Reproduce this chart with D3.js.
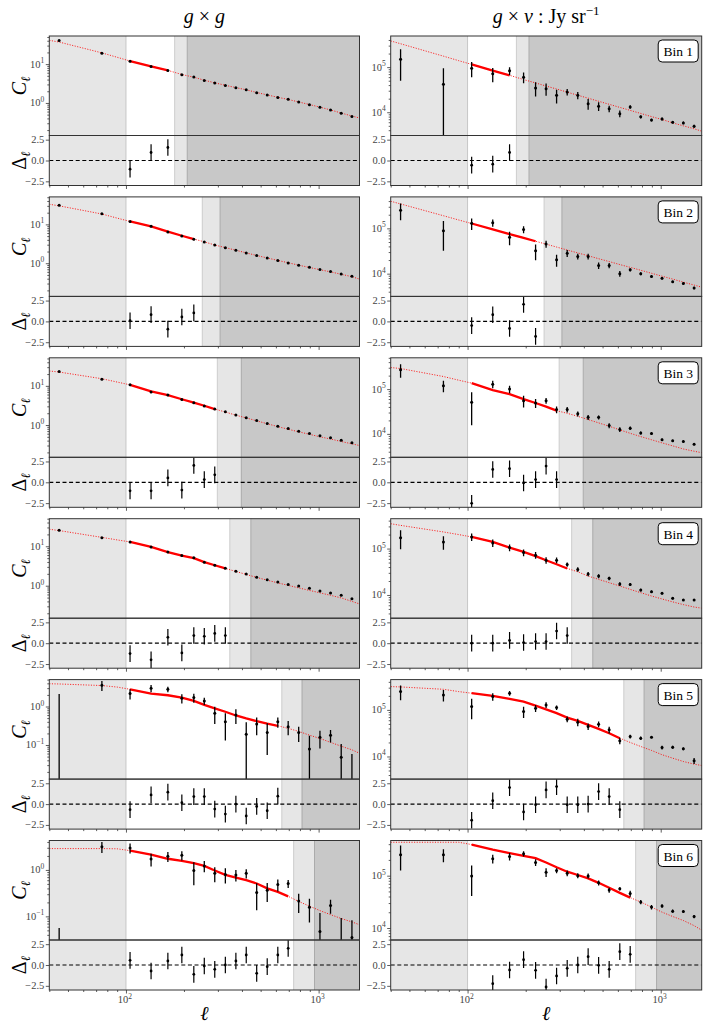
<!DOCTYPE html>
<html>
<head>
<meta charset="utf-8">
<script src="https://cdn.jsdelivr.net/npm/d3@7"></script>
<style>
  body { margin: 0; background: #fff; }
  text { font-family: "Liberation Serif", "DejaVu Serif", serif; }
</style>
</head>
<body>
<div id="chart"></div>
<script>
// ---- data ----
var ells = [45, 75, 105, 135, 165, 195, 225, 255, 289, 328, 372, 421, 477, 541, 614, 695, 788, 896, 1016, 1153, 1310, 1489];
var modelElls = [40, 45, 75, 90, 105, 135, 165, 195, 225, 255, 289, 328, 372, 421, 477, 541, 614, 695, 788, 896, 1016, 1153, 1310, 1489, 1630];
var binNames = ["Bin 1", "Bin 2", "Bin 3", "Bin 4", "Bin 5", "Bin 6"];
var nFit = [3, 5, 7, 8, 13, 14];        // number of points inside the fit range
var lmax = [179, 249, 298, 346, 644, 742];
var lcut = [208, 308, 397, 445, 820, 952];
var ellDomain = [40, 1630];

// g x g
var ggCl = [
  [40.3, 19.1, 11.9, 8.68, 6.85, 5.32, 4.64, 3.8, 3.26, 2.83, 2.47, 2.19, 1.84, 1.6, 1.39, 1.24, 1.06, 0.90, 0.77, 0.66, 0.54, 0.445],
  [31, 18.8, 11.9, 8.9, 6.35, 5.0, 4.12, 3.52, 2.95, 2.5, 2.15, 1.84, 1.57, 1.37, 1.17, 1.02, 0.89, 0.79, 0.69, 0.61, 0.53, 0.46],
  [23.1, 14.8, 10.6, 7.0, 5.8, 4.5, 3.7, 3.04, 2.55, 2.18, 1.8, 1.54, 1.31, 1.1, 0.925, 0.81, 0.69, 0.61, 0.535, 0.47, 0.41, 0.355],
  [25.3, 16.5, 12.9, 9.6, 7.2, 5.8, 5.1, 3.95, 3.3, 2.79, 2.34, 1.97, 1.65, 1.42, 1.24, 1.08, 0.98, 0.86, 0.73, 0.65, 0.57, 0.47],
  [-0.1, 3.56, 2.17, 2.98, 2.8, 1.64, 1.71, 1.40, 0.67, 0.40, 0.60, 0.19, 0.35, 0.21, 0.40, 0.30, 0.21, 0.079, 0.158, 0.18, 0.048, -0.01],
  [-0.02, 3.14, 2.98, 1.71, 1.96, 2.06, 0.97, 1.22, 0.845, 0.80, 0.78, 0.845, 0.325, 0.365, 0.485, 0.51, 0.213, 0.157, 0.047, 0.171, 0.02, 0.035]
];
// relative errors for bins 1-4 (tiny), absolute errors for bins 5-6
var ggRelErr = [0.03, 0.03, 0.025, 0.025, 0.025, 0.025, 0.025, 0.025, 0.025, 0.025, 0.025, 0.025, 0.025, 0.025, 0.025, 0.025, 0.025, 0.025, 0.025, 0.025, 0.025, 0.025];
var ggErr5 = [2.2, 1.05, 0.65, 0.65, 0.45, 0.45, 0.45, 0.3, 0.32, 0.27, 0.25, 0.2, 0.17, 0.155, 0.12, 0.12, 0.09, 0.095, 0.077, 0.064, 0.058, 0.068];
var ggErr6 = [0.076, 0.83, 0.73, 0.53, 0.48, 0.46, 0.5, 0.33, 0.3, 0.29, 0.22, 0.19, 0.19, 0.16, 0.14, 0.1, 0.095, 0.083, 0.071, 0.057, 0.072, 0.048];
var ggModel = [
  [41, 37, 19.5, 15, 12.0, 8.8, 6.9, 5.4, 4.6, 3.85, 3.3, 2.85, 2.48, 2.18, 1.86, 1.61, 1.40, 1.23, 1.06, 0.91, 0.78, 0.66, 0.55, 0.46, 0.41],
  [33, 30, 18.5, 14.5, 11.9, 8.9, 6.5, 5.1, 4.2, 3.55, 2.95, 2.52, 2.16, 1.85, 1.58, 1.37, 1.18, 1.03, 0.89, 0.78, 0.68, 0.60, 0.52, 0.45, 0.39],
  [24, 22.5, 15.2, 12.5, 10.6, 7.2, 5.8, 4.55, 3.75, 3.1, 2.55, 2.15, 1.78, 1.52, 1.28, 1.08, 0.91, 0.78, 0.67, 0.58, 0.5, 0.44, 0.38, 0.33, 0.30],
  [27, 25, 16.8, 14.5, 12.9, 9.6, 7.1, 5.8, 5.0, 3.95, 3.3, 2.75, 2.3, 1.93, 1.62, 1.38, 1.18, 1.02, 0.88, 0.76, 0.66, 0.57, 0.49, 0.40, 0.345],
  [3.9, 3.85, 3.5, 3.2, 2.8, 2.17, 1.96, 1.71, 1.40, 1.10, 0.89, 0.73, 0.585, 0.49, 0.417, 0.36, 0.316, 0.27, 0.226, 0.18, 0.148, 0.117, 0.093, 0.075, 0.061],
  [2.88, 2.88, 2.88, 2.85, 2.6, 2.13, 1.74, 1.57, 1.40, 1.22, 0.97, 0.78, 0.68, 0.60, 0.51, 0.40, 0.336, 0.27, 0.21, 0.166, 0.133, 0.109, 0.090, 0.076, 0.066]
];
var ggResid = [
  [-1.04, 0.96, 1.56],
  [0.08, 0.81, -0.93, 0.53, 1.02],
  [-1.02, -1.02, 0.53, -0.93, 2.03, 0.33, 0.9],
  [-1.25, -2.0, 0.71, -1.17, 0.92, 0.83, 1.17, 0.92],
  [-0.67, 1.1, 1.43, 0.16, 0.9, 0.9, -0.6, -1.2, 0, -1.43, -0.28, -0.8, 0.95],
  [0.56, -0.72, 0.48, 1.2, -1.12, -0.12, -0.52, 0, 0.48, 1.2, -1.0, -0.2, 1.2, 2.0]
];
var ggYDomain = [[0.145, 53], [0.14, 51], [0.15, 52], [0.15, 50], [0.013, 5.0], [0.031, 4.3]];

// g x nu
var gnCl = [
  [1.5e5, 4.2e4, 9.5e4, 7.1e4, 8.3e4, 6.0e4, 3.44e4, 3.33e4, 2.37e4, 2.81e4, 2.37e4, 1.55e4, 1.36e4, 1.2e4, 9.3e3, 1.31e4, 7.9e3, 6.7e3, 7.1e3, 6.0e3, 5.8e3, 4.9e3],
  [2.52e5, 8.9e4, 1.29e5, 1.33e5, 6.35e4, 9.5e4, 3.19e4, 4.54e4, 2.03e4, 2.84e4, 2.4e4, 2.4e4, 1.52e4, 1.52e4, 1.0e4, 1.22e4, 1.0e4, 8.7e3, 7.9e3, 6.6e3, 6.1e3, 4.85e3],
  [2.69e5, 1.19e5, 5.06e4, 1.29e5, 1.0e5, 5.5e4, 4.9e4, 5.5e4, 3.5e4, 3.5e4, 2.8e4, 2.34e4, 2.34e4, 1.53e4, 1.25e4, 1.34e4, 1.05e4, 1.02e4, 7.4e3, 7.0e3, 6.8e3, 5.9e3],
  [1.72e5, 1.39e5, 1.78e5, 1.32e5, 1.05e5, 8.2e4, 7.2e4, 5.6e4, 5.6e4, 4.54e4, 3.55e4, 2.82e4, 2.55e4, 2.28e4, 1.72e4, 1.69e4, 1.28e4, 1.18e4, 1.09e4, 8.5e3, 7.8e3, 7.8e3],
  [2.47e5, 2.1e5, 1.18e5, 1.93e5, 2.28e5, 9.2e4, 1.09e5, 1.28e5, 1.12e5, 6.3e4, 5.45e4, 4.4e4, 4.93e4, 3.73e4, 2.17e4, 2.69e4, 2.47e4, 2.6e4, 1.56e4, 1.58e4, 1.46e4, 8.1e3],
  [2.51e5, 2.51e5, 9.9e4, 2.1e5, 2.33e5, 2.62e5, 1.79e5, 1.16e5, 1.25e5, 1.11e5, 1.0e5, 9.9e4, 7.3e4, 5.3e4, 5.6e4, 4.55e4, 3.14e4, 2.51e4, 2.63e4, 2.1e4, 2.07e4, 1.66e4]
];
var gnErr = [
  [1.0e5, 5.3e4, 3.5e4, 2.5e4, 1.7e4, 1.6e4, 1.2e4, 1.0e4, 8e3, 4.6e3, 4.4e3, 4.2e3, 3e3, 2e3, 1.6e3, 1.1e3, 600, 500, 500, 400, 400, 350],
  [1.0e5, 5.7e4, 3.7e4, 2.4e4, 2.1e4, 1.7e4, 1.2e4, 8e3, 6e3, 5e3, 3.5e3, 3.5e3, 2.5e3, 2e3, 1.5e3, 1e3, 800, 600, 500, 400, 350, 300],
  [9e4, 3.4e4, 3.5e4, 2.4e4, 1.9e4, 1.6e4, 1.1e4, 8e3, 6e3, 5e3, 3.5e3, 3e3, 2.5e3, 2e3, 1.5e3, 1.2e3, 800, 700, 500, 400, 400, 350],
  [7.5e4, 4.5e4, 3.2e4, 2.4e4, 1.8e4, 1.4e4, 1.2e4, 9e3, 8e3, 5e3, 4e3, 3e3, 2.5e3, 2e3, 1.5e3, 1.2e3, 900, 700, 600, 500, 400, 400],
  [8.5e4, 5.8e4, 5.5e4, 3.5e4, 2.7e4, 2.5e4, 1.9e4, 1.8e4, 1.2e4, 9e3, 1e4, 7e3, 7e3, 6e3, 3.5e3, 2.5e3, 2e3, 1.5e3, 1.5e3, 1.2e3, 1e3, 1.2e3],
  [1.25e5, 7e4, 5.8e4, 4e4, 3.8e4, 3e4, 2.6e4, 2.2e4, 1.4e4, 1.4e4, 1.1e4, 1.1e4, 8e3, 6e3, 4e3, 6e3, 3e3, 2.5e3, 2e3, 1.5e3, 1.2e3, 1.2e3]
];
var gnModel = [
  [3.81e5, 3.30e5, 1.75e5, 1.39e5, 1.15e5, 8.4e4, 6.6e4, 5.3e4, 4.46e4, 3.81e4, 3.27e4, 2.79e4, 2.38e4, 2.05e4, 1.75e4, 1.50e4, 1.28e4, 1.10e4, 9.4e3, 8.0e3, 6.9e3, 5.8e3, 5.0e3, 4.3e3, 3.8e3],
  [3.97e5, 3.46e5, 1.90e5, 1.53e5, 1.28e5, 9.5e4, 7.5e4, 6.15e4, 5.2e4, 4.48e4, 3.87e4, 3.33e4, 2.87e4, 2.49e4, 2.14e4, 1.85e4, 1.59e4, 1.38e4, 1.19e4, 1.02e4, 8.8e3, 7.6e3, 6.5e3, 5.6e3, 5.05e3],
  [3.03e5, 2.88e5, 1.91e5, 1.58e5, 1.36e5, 9.5e4, 7.75e4, 6.0e4, 4.9e4, 4.05e4, 3.3e4, 2.88e4, 2.47e4, 2.09e4, 1.76e4, 1.48e4, 1.23e4, 1.03e4, 8.7e3, 7.4e3, 6.3e3, 5.4e3, 4.6e3, 4.1e3, 3.8e3],
  [3.43e5, 3.16e5, 2.28e5, 2.0e5, 1.78e5, 1.39e5, 1.05e5, 8.5e4, 6.85e4, 5.6e4, 4.6e4, 3.73e4, 3.16e4, 2.55e4, 2.17e4, 1.84e4, 1.56e4, 1.32e4, 1.12e4, 9.5e3, 8.2e3, 7.1e3, 6.2e3, 5.5e3, 5.2e3],
  [3.16e5, 3.11e5, 2.77e5, 2.47e5, 2.28e5, 2.0e5, 1.72e5, 1.51e5, 1.24e5, 1.03e5, 8.5e4, 6.85e4, 5.8e4, 4.77e4, 3.92e4, 3.16e4, 2.47e4, 2.0e4, 1.64e4, 1.35e4, 1.09e4, 9.2e3, 7.8e3, 6.85e3, 6.4e3],
  [4.35e5, 4.35e5, 4.35e5, 4.35e5, 3.93e5, 3.14e5, 2.71e5, 2.4e5, 2.16e5, 1.79e5, 1.45e5, 1.19e5, 1.03e5, 8.9e4, 7.3e4, 5.9e4, 4.69e4, 3.81e4, 3.14e4, 2.51e4, 2.01e4, 1.66e4, 1.39e4, 1.11e4, 9.1e3]
];
var gnResid = [
  [-0.56, -0.44, 0.96],
  [-0.5, 0.8, -0.85, 2.05, -1.8],
  [-2.52, 1.54, 1.63, -0.08, 0.33, 1.95, 0.33],
  [0, 0, 0.33, 0.08, 0.2, 0.2, 1.46, 0.92],
  [-1.94, 0.4, 1.98, -0.95, -0.08, 1.7, 2.1, -0.08, -0.08, 0, 1.5, 0.9, -0.67],
  [-5.1, -2.24, -0.6, 0.64, -0.64, -2.64, -1.32, -0.4, 0, 1.0, -0.04, -0.52, 1.6, 1.28]
];
var gnYDomain = [[3.05e3, 4.9e5], [3.15e3, 4.95e5], [3.0e3, 5.0e5], [3.16e3, 4.4e5], [3.27e3, 4.47e5], [5.9e3, 4.7e5]];

var residTicks = [-2.5, 0, 2.5];
var xMajor = [100, 1000];
var xMinor = [40, 50, 60, 70, 80, 90, 200, 300, 400, 500, 600, 700, 800, 900];

// ---- layout ----
var svgWidth = 706, svgHeight = 1027;
var cols = [{x0: 49.3, x1: 359.5}, {x0: 390.7, x1: 701.7}];
var rowTop0 = 36, rowStep = 160.9, mainH = 99.5, resH = 50;
var lightGray = "#e6e6e6", darkGray = "#c8c8c8", axisColor = "#333", tickText = "#444";

var svg = d3.select("#chart")
  .append("svg")
  .attr("width", svgWidth)
  .attr("height", svgHeight);

var clipCount = 0;
function addClip(x, y, w, h) {
  var id = "clip" + (clipCount++);
  svg.append("clipPath").attr("id", id)
    .append("rect").attr("x", x).attr("y", y).attr("width", w).attr("height", h);
  return "url(#" + id + ")";
}

function powLabel(g, xPos, yPos, base, exp, anchor) {
  var t = g.append("text")
    .attr("x", xPos).attr("y", yPos)
    .attr("text-anchor", anchor)
    .attr("fill", tickText)
    .style("font-size", "10.5px");
  t.append("tspan").text(base);
  t.append("tspan").attr("dy", -4.5).style("font-size", "7.5px").text(exp);
}

function drawPanel(row, col) {
  var x0 = cols[col].x0, x1 = cols[col].x1;
  var top = rowTop0 + row * rowStep;
  var mid = top + mainH, bot = mid + resH;
  var isGG = col === 0;

  var x = d3.scaleLog().domain(ellDomain).range([x0, x1]);
  var yDom = isGG ? ggYDomain[row] : gnYDomain[row];
  var y = d3.scaleLog().domain(yDom).range([mid, top]);
  var yr = d3.scaleLinear().domain([-3, 3]).range([bot, mid]);

  var cl = isGG ? ggCl[row] : gnCl[row];
  var model = isGG ? ggModel[row] : gnModel[row];
  var resid = isGG ? ggResid[row] : gnResid[row];
  var err = cl.map(function(v, j) {
    if (!isGG) return gnErr[row][j];
    if (row === 4) return ggErr5[j];
    if (row === 5) return ggErr6[j];
    return v * ggRelErr[j];
  });

  var g = svg.append("g");

  // shaded scale cuts, drawn on both sub-panels
  [[top, mid], [mid, bot]].forEach(function(span) {
    g.append("rect").attr("x", x0).attr("y", span[0])
      .attr("width", x(100) - x0).attr("height", span[1] - span[0]).attr("fill", lightGray);
    g.append("rect").attr("x", x(lmax[row])).attr("y", span[0])
      .attr("width", x1 - x(lmax[row])).attr("height", span[1] - span[0]).attr("fill", lightGray);
    g.append("rect").attr("x", x(lcut[row])).attr("y", span[0])
      .attr("width", x1 - x(lcut[row])).attr("height", span[1] - span[0]).attr("fill", darkGray);
  });
  [[100, "#c6c6c6"], [lmax[row], "#cdcdcd"], [lcut[row], "#ababab"]].forEach(function(e) {
    g.append("line").attr("x1", x(e[0])).attr("x2", x(e[0]))
      .attr("y1", top).attr("y2", bot)
      .attr("stroke", e[1]).attr("stroke-width", 1);
  });

  // ---- main panel ----
  var main = g.append("g").attr("clip-path", addClip(x0, top, x1 - x0, mainH));

  var line = d3.line().x(function(d) { return x(d[0]); }).y(function(d) { return y(d[1]); });
  var modelPts = modelElls.map(function(l, j) { return [l, model[j]]; });
  var lastFit = ells[2 + nFit[row] - 1];
  var fitPts = modelPts.filter(function(d) { return d[0] >= 105 && d[0] <= lastFit; });

  main.append("path").datum(modelPts).attr("d", line)
    .attr("fill", "none").attr("stroke", "red").attr("stroke-width", 1)
    .attr("stroke-dasharray", "1.1,1.5").attr("opacity", 0.85);
  main.append("path").datum(fitPts).attr("d", line)
    .attr("fill", "none").attr("stroke", "red").attr("stroke-width", 2.3);

  cl.forEach(function(v, j) {
    var hi = v + err[j];
    var lo = v - err[j];
    var yHi = y(hi);
    var yLo = lo > 0 ? y(lo) : mid + 5;
    main.append("line")
      .attr("x1", x(ells[j])).attr("x2", x(ells[j]))
      .attr("y1", yLo).attr("y2", yHi)
      .attr("stroke", "#000").attr("stroke-width", 1.3);
    if (v > 0) {
      main.append("circle")
        .attr("cx", x(ells[j])).attr("cy", y(v)).attr("r", 1.5).attr("fill", "#000");
    }
  });

  // ---- residual panel ----
  var res = g.append("g").attr("clip-path", addClip(x0, mid, x1 - x0, resH));
  res.append("line").attr("x1", x0).attr("x2", x1)
    .attr("y1", yr(0)).attr("y2", yr(0))
    .attr("stroke", "#000").attr("stroke-width", 1.2).attr("stroke-dasharray", "4,2.6");
  resid.forEach(function(r, j) {
    var l = ells[2 + j];
    res.append("line").attr("x1", x(l)).attr("x2", x(l))
      .attr("y1", yr(r - 1)).attr("y2", yr(r + 1))
      .attr("stroke", "#000").attr("stroke-width", 1.2);
    res.append("circle").attr("cx", x(l)).attr("cy", yr(r)).attr("r", 1.4).attr("fill", "#000");
  });

  // ---- frames ----
  g.append("rect").attr("x", x0).attr("y", top).attr("width", x1 - x0).attr("height", mainH)
    .attr("fill", "none").attr("stroke", axisColor).attr("stroke-width", 1);
  g.append("rect").attr("x", x0).attr("y", mid).attr("width", x1 - x0).attr("height", resH)
    .attr("fill", "none").attr("stroke", axisColor).attr("stroke-width", 1);

  // y ticks, main (log)
  var eLo = Math.floor(Math.log10(yDom[0])), eHi = Math.ceil(Math.log10(yDom[1]));
  var majors = [], minors = [];
  for (var e = eLo; e <= eHi; e++) {
    var p = Math.pow(10, e);
    if (p >= yDom[0] && p <= yDom[1]) majors.push(e);
    for (var m = 2; m <= 9; m++) {
      if (m * p >= yDom[0] && m * p <= yDom[1]) minors.push(m * p);
    }
  }
  var yAxisMinor = g.append("g").attr("transform", "translate(" + x0 + ",0)")
    .call(d3.axisLeft(y).tickValues(minors).tickSize(2).tickFormat(""));
  var yAxisMajor = g.append("g").attr("transform", "translate(" + x0 + ",0)")
    .call(d3.axisLeft(y).tickValues(majors.map(function(e) { return Math.pow(10, e); })).tickSize(3.5).tickFormat(""));
  [yAxisMinor, yAxisMajor].forEach(function(a) {
    a.select(".domain").remove();
    a.selectAll("line").attr("stroke", axisColor).attr("stroke-width", 0.8);
  });
  majors.forEach(function(e) {
    powLabel(g, x0 - 5, y(Math.pow(10, e)) + 3.5, "10", e < 0 ? "\u2212" + (-e) : String(e), "end");
  });

  // y ticks, residual
  var rAxis = g.append("g").attr("transform", "translate(" + x0 + ",0)")
    .call(d3.axisLeft(yr).tickValues(residTicks).tickSize(3.5).tickFormat(""));
  rAxis.select(".domain").remove();
  rAxis.selectAll("line").attr("stroke", axisColor).attr("stroke-width", 0.8);
  residTicks.forEach(function(t) {
    g.append("text").attr("x", x0 - 5).attr("y", yr(t) + 3.5)
      .attr("text-anchor", "end").attr("fill", tickText).style("font-size", "10.5px")
      .text(t < 0 ? "\u2212" + (-t).toFixed(1) : t.toFixed(1));
  });

  // x ticks
  var xAxisMinor = g.append("g").attr("transform", "translate(0," + bot + ")")
    .call(d3.axisBottom(x).tickValues(xMinor).tickSize(2).tickFormat(""));
  var xAxisMajor = g.append("g").attr("transform", "translate(0," + bot + ")")
    .call(d3.axisBottom(x).tickValues(xMajor).tickSize(3.5).tickFormat(""));
  [xAxisMinor, xAxisMajor].forEach(function(a) {
    a.select(".domain").remove();
    a.selectAll("line").attr("stroke", axisColor).attr("stroke-width", 0.8);
  });
  if (row === 5) {
    xMajor.forEach(function(v) {
      powLabel(g, x(v) - 1, bot + 13, "10", String(Math.round(Math.log10(v))), "middle");
    });
    g.append("text").attr("x", (x0 + x1) / 2).attr("y", bot + 30)
      .attr("text-anchor", "middle").style("font-size", "20px").style("font-style", "italic")
      .text("\u2113");
  }

  // y labels on the left column only
  if (isGG) {
    var cy = (top + mid) / 2;
    var cLab = g.append("text").attr("transform", "translate(26," + cy + ") rotate(-90)")
      .attr("text-anchor", "middle").style("font-size", "20px");
    cLab.append("tspan").style("font-style", "italic").text("C");
    cLab.append("tspan").attr("dy", 4).style("font-size", "13px").style("font-style", "italic").text("\u2113");
    var ry = (mid + bot) / 2;
    var dLab = g.append("text").attr("transform", "translate(26," + ry + ") rotate(-90)")
      .attr("text-anchor", "middle").style("font-size", "20px");
    dLab.append("tspan").text("\u0394");
    dLab.append("tspan").attr("dy", 4).style("font-size", "13px").style("font-style", "italic").text("\u2113");
  } else {
    // bin label box
    g.append("rect").attr("x", x1 - 43.5).attr("y", top + 4).attr("width", 40).attr("height", 22)
      .attr("rx", 4).attr("fill", "#fff").attr("stroke", "#000").attr("stroke-width", 1);
    g.append("text").attr("x", x1 - 23.5).attr("y", top + 20)
      .attr("text-anchor", "middle").style("font-size", "13.5px").text(binNames[row]);
  }
}

for (var r = 0; r < 6; r++) {
  drawPanel(r, 0);
  drawPanel(r, 1);
}

// column titles
var t1 = svg.append("text").attr("x", (cols[0].x0 + cols[0].x1) / 2).attr("y", 23)
  .attr("text-anchor", "middle").style("font-size", "20px");
t1.append("tspan").style("font-style", "italic").text("g");
t1.append("tspan").text(" \u00d7 ");
t1.append("tspan").style("font-style", "italic").text("g");

var t2 = svg.append("text").attr("x", (cols[1].x0 + cols[1].x1) / 2).attr("y", 23)
  .attr("text-anchor", "middle").style("font-size", "20px");
t2.append("tspan").style("font-style", "italic").text("g");
t2.append("tspan").text(" \u00d7 ");
t2.append("tspan").style("font-style", "italic").text("\u03bd");
t2.append("tspan").text(" : Jy sr");
t2.append("tspan").attr("dy", -8).style("font-size", "13px").text("\u22121");
</script>
</body>
</html>
